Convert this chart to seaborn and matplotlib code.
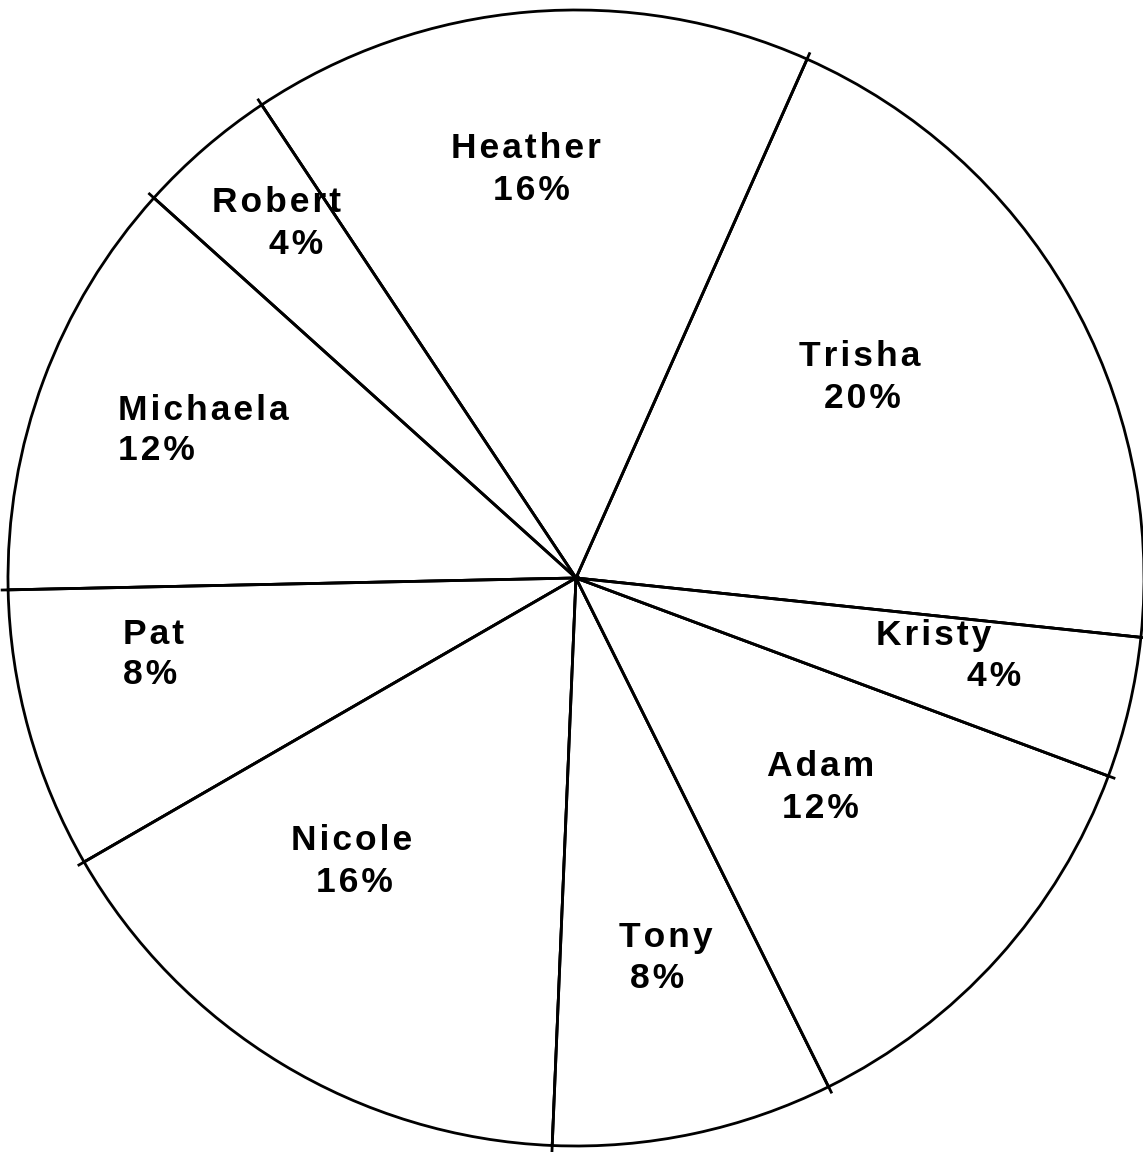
import numpy as np
import matplotlib
matplotlib.use("Agg")
import matplotlib.pyplot as plt
import seaborn as sns

# ---- data ----
names = ["Trisha", "Heather", "Robert", "Michaela", "Pat", "Nicole", "Tony", "Adam", "Kristy"]
shares = [20, 16, 4, 12, 8, 16, 8, 12, 4]

# ---- layout (pixel positions of the two label lines: x, y-center, ha) ----
W, H = 1143, 1152
line1_pos = [(860, 353, "center"), (526, 146, "center"), (277, 199, "center"),
             (118, 407, "left"), (123, 632, "left"), (352, 838, "center"),
             (666, 934, "center"), (821, 763, "center"), (934, 632, "center")]
line2_pos = [(862, 395, "center"), (531, 188, "center"), (296, 241, "center"),
             (118, 448, "left"), (123, 672, "left"), (354, 880, "center"),
             (657, 975, "center"), (820, 805, "center"), (994, 673, "center")]

sns.set_theme(style="white")
plt.rcParams["font.family"] = ["Liberation Sans", "DejaVu Sans"]

fig = plt.figure(figsize=(W / 100, H / 100), dpi=100)
ax = fig.add_axes([0, 0, 1, 1])

cx, cy, r = 576, H - 578, 568
wedges, _ = ax.pie(shares, startangle=-6, counterclock=True, center=(cx, cy), radius=r,
                   colors=["white"] * len(shares),
                   wedgeprops=dict(edgecolor="black", linewidth=2.0))

# slight overshoot of each dividing line beyond the rim
for w in wedges:
    t = np.deg2rad(w.theta1)
    ax.plot([cx, cx + 1.013 * r * np.cos(t)], [cy, cy + 1.013 * r * np.sin(t)],
            color="black", lw=2.0, solid_capstyle="butt")
ax.plot([cx], [cy], "o", color="black", ms=4.5)

fs = 25.5
hair = "\u200a"
for name, v, p1, p2 in zip(names, shares, line1_pos, line2_pos):
    for text, (px, py, ha) in ((name, p1), (f"{v}%", p2)):
        ax.text(px, H - (py + 12.5), hair.join(text), ha=ha, va="baseline",
                fontsize=fs, fontweight="bold", color="black")

ax.set_xlim(0, W)
ax.set_ylim(0, H)
ax.set_aspect("auto")
ax.axis("off")
fig.savefig("out.png", dpi=100, facecolor="white")
